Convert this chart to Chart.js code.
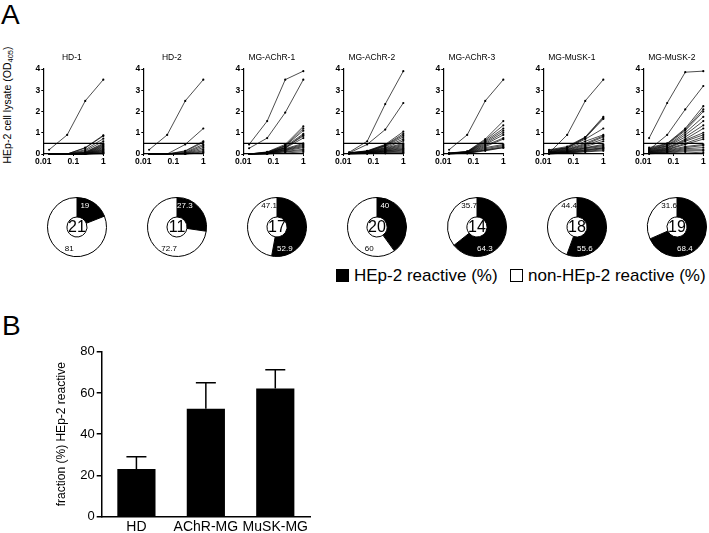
<!DOCTYPE html>
<html>
<head>
<meta charset="utf-8">
<script src="https://cdn.jsdelivr.net/npm/chart.js@4.4.0/dist/chart.umd.min.js"></script>
<style>
body { margin:0; background:#fff; width:709px; height:533px; position:relative; overflow:hidden;
  font-family: Arial, "Liberation Sans", sans-serif; color:#000; }
canvas, .abs { position:absolute; }
.panel { font-size:28px; line-height:28px; }
#ylab { left:8px; top:105px; font-size:10.5px; white-space:nowrap; transform:translate(-50%,-50%) rotate(-90deg); }
#ylab sub { font-size:7.5px; vertical-align:-2px; }
.leg { font-size:17px; line-height:20px; white-space:nowrap; }
</style>
</head>
<body>
<div class="abs panel" style="left:1px; top:1px;">A</div>
<div class="abs panel" style="left:2px; top:312px;">B</div>
<div class="abs" id="ylab">HEp-2 cell lysate (OD<sub>405</sub>)</div>
<div class="abs" style="left:336px; top:269px; width:13px; height:13px; background:#000;"></div>
<div class="abs leg" style="left:354px; top:265.5px;">HEp-2 reactive (%)</div>
<div class="abs" style="left:510px; top:269px; width:13px; height:13px; border:1.5px solid #000; box-sizing:border-box;"></div>
<div class="abs leg" style="left:528px; top:265.5px;">non-HEp-2 reactive (%)</div>

<script>
// dilution series (x) and cut-off
var dilutions = [1/64, 1/16, 1/4, 1];
var cutoff = 0.5;

var panelTitles = ['HD-1', 'HD-2', 'MG-AChR-1', 'MG-AChR-2', 'MG-AChR-3', 'MG-MuSK-1', 'MG-MuSK-2'];
var cloneCounts = [21, 11, 17, 20, 14, 18, 19];
var reactivePct = [19, 27.3, 52.9, 40, 64.3, 55.6, 68.4];
var nonReactivePct = [81, 72.7, 47.1, 60, 35.7, 44.4, 31.6];

// OD405 per antibody at each dilution
var hd1 = [
  [0.2,0.9,2.5,3.5],[0,0,0.3,0.88],[0,0,0.28,0.85],[0,0,0.2,0.72],[0,0,0.15,0.6],
  [0,0,0.1,0.5],[0,0,0.08,0.46],[0,0,0.06,0.42],[0,0,0.05,0.38],[0,0,0.04,0.34],
  [0,0,0.03,0.3],[0,0,0.02,0.26],[0,0,0.02,0.22],[0,0,0.01,0.19],[0,0,0.01,0.16],
  [0,0,0,0.13],[0,0,0,0.1],[0,0,0,0.07],[0,0,0,0.05],[0,0,0,0.03],[0,0,0,0.01]
];
var hd2 = [
  [0.2,0.9,2.5,3.5],[0,0,0.45,1.2],[0,0,0.15,0.6],[0,0,0.12,0.55],[0,0,0.08,0.45],
  [0,0,0.05,0.38],[0,0,0.03,0.3],[0,0,0.02,0.22],[0,0,0.01,0.15],[0,0,0,0.1],[0,0,0,0.05]
];
var achr1 = [
  [0.45,1.55,3.5,3.9],[0.27,0.75,1.95,3.5],[0,0.1,0.45,1.3],[0,0.08,0.4,1.2],[0,0.08,0.38,1.1],
  [0,0.06,0.35,0.95],[0,0.05,0.3,0.9],[0,0.05,0.3,0.85],[0,0.04,0.28,0.75],[0,0.04,0.25,0.5],
  [0,0.03,0.22,0.45],[0,0.03,0.2,0.4],[0,0.02,0.18,0.35],[0,0.02,0.15,0.3],[0,0.01,0.12,0.22],
  [0,0.01,0.1,0.16],[0,0,0.05,0.1]
];
var achr2 = [
  [0.08,0.6,2.35,3.9],[0.05,0.45,1.15,2.4],[0.06,0.15,0.45,1.05],[0.05,0.14,0.42,0.95],
  [0.05,0.12,0.4,0.88],[0.04,0.12,0.38,0.8],[0.04,0.1,0.35,0.7],[0.04,0.1,0.3,0.62],
  [0.03,0.09,0.28,0.5],[0.03,0.08,0.25,0.45],[0.03,0.08,0.22,0.4],[0.03,0.07,0.2,0.35],
  [0.02,0.06,0.18,0.3],[0.02,0.05,0.15,0.26],[0.02,0.05,0.14,0.22],[0.02,0.04,0.12,0.18],
  [0.01,0.04,0.1,0.14],[0.01,0.03,0.08,0.1],[0.01,0.02,0.05,0.06],[0.01,0.02,0.03,0.03]
];
var achr3 = [
  [0.2,0.9,2.5,3.5],[0.05,0.12,0.7,1.55],[0.04,0.11,0.65,1.35],[0.04,0.1,0.6,1.2],
  [0.03,0.1,0.55,1.1],[0.03,0.09,0.5,1.0],[0.03,0.08,0.45,0.9],[0.02,0.07,0.4,0.75],
  [0.02,0.06,0.35,0.7],[0.02,0.05,0.3,0.45],[0.01,0.05,0.25,0.4],[0.01,0.04,0.2,0.35],
  [0.01,0.04,0.18,0.3],[0.01,0.03,0.15,0.3]
];
var musk1 = [
  [0.05,0.9,2.5,3.5],[0.2,0.35,0.8,1.75],[0.18,0.3,0.78,1.7],[0.15,0.3,0.75,1.65],
  [0.12,0.28,0.7,1.2],[0.1,0.25,0.6,0.9],[0.1,0.22,0.5,0.85],[0.08,0.2,0.45,0.8],
  [0.08,0.18,0.4,0.7],[0.06,0.15,0.35,0.6],[0.05,0.14,0.3,0.45],[0.05,0.12,0.28,0.4],
  [0.04,0.1,0.25,0.35],[0.03,0.1,0.2,0.3],[0.03,0.08,0.18,0.28],[0.02,0.07,0.15,0.25],
  [0.01,0.05,0.12,0.2],[0,0.05,0.1,0.15]
];
var musk2 = [
  [0.75,2.4,3.85,3.9],[0.2,0.9,2.1,3.2],[0.3,0.5,1.2,2.25],[0.25,0.48,1.15,2.1],
  [0.22,0.45,1.1,2.0],[0.2,0.4,1.0,1.75],[0.18,0.38,0.9,1.55],[0.15,0.35,0.8,1.35],
  [0.14,0.3,0.7,1.2],[0.12,0.28,0.65,1.0],[0.1,0.25,0.6,0.9],[0.1,0.22,0.5,0.8],
  [0.08,0.2,0.45,0.7],[0.06,0.18,0.35,0.45],[0.05,0.15,0.3,0.4],[0.04,0.12,0.25,0.3],
  [0.03,0.1,0.2,0.2],[0.02,0.08,0.15,0.15],[0.01,0.05,0.1,0.05]
];
var panelLines = [hd1, hd2, achr1, achr2, achr3, musk1, musk2];

// panel B
var groups = ['HD', 'AChR-MG', 'MuSK-MG'];
var groupMeans = [23.1, 52.4, 62.1];
var groupSem = [6.0, 12.6, 9.2];

Chart.defaults.font.family = 'Arial, "Liberation Sans", sans-serif';
Chart.defaults.color = '#000';

function addCanvas(left, top, w, h) {
  var cv = document.createElement('canvas');
  cv.width = w; cv.height = h;
  cv.style.left = left + 'px'; cv.style.top = top + 'px';
  cv.style.width = w + 'px'; cv.style.height = h + 'px';
  document.body.appendChild(cv);
  return cv;
}

// title centred over the plot area
var panelTitle = {
  id: 'panelTitle',
  afterDraw: function (chart, args, opts) {
    var ctx = chart.ctx, ca = chart.chartArea;
    ctx.save();
    ctx.font = '8.5px Arial, "Liberation Sans", sans-serif';
    ctx.textAlign = 'center';
    ctx.textBaseline = 'middle';
    ctx.fillStyle = '#000';
    ctx.fillText(opts.text, (ca.left + ca.right) / 2 - 1.5, 12.5);
    ctx.restore();
  }
};

// ---- small dilution curves ----
function createLineChart(i) {
  var cv = addCanvas(13 + 100 * i, 45, 100, 130);
  var ds = panelLines[i].map(function (row) {
    return {
      data: row.map(function (v, k) { return { x: dilutions[k], y: v }; }),
      borderColor: '#000', borderWidth: 0.7,
      pointRadius: 1.1, pointBackgroundColor: '#000', pointBorderWidth: 0,
      clip: false
    };
  });
  ds.push({
    data: [{ x: 0.01, y: cutoff }, { x: 1, y: cutoff }],
    borderColor: '#000', borderWidth: 1.4, pointRadius: 0, clip: false
  });
  return new Chart(cv, {
    type: 'line',
    data: { datasets: ds },
    options: {
      responsive: false, animation: false, events: [],
      layout: { padding: { left: 0, right: 9.7, top: 24, bottom: 0 } },
      plugins: {
        legend: { display: false }, tooltip: { enabled: false },
        panelTitle: { text: panelTitles[i] }
      },
      scales: {
        x: {
          type: 'logarithmic', min: 0.01, max: 1,
          afterBuildTicks: function (s) { s.ticks = [{ value: 0.01 }, { value: 0.1 }, { value: 1 }]; },
          ticks: { callback: function (v) { return String(v); }, font: { size: 8.5, weight: 'bold' },
            padding: 1, maxRotation: 0, autoSkip: false },
          grid: { drawOnChartArea: false, color: '#000', tickLength: 2 },
          border: { color: '#000', width: 1.2 },
          afterFit: function (s) { s.height = 21; }
        },
        y: {
          min: 0, max: 4,
          ticks: { stepSize: 1, font: { size: 8.5, weight: 'bold' }, padding: 1 },
          grid: { drawOnChartArea: false, color: '#000', tickLength: 2 },
          border: { color: '#000', width: 1.2 },
          afterFit: function (s) { s.width = 30.3; }
        }
      }
    },
    plugins: [panelTitle]
  });
}

// ---- doughnuts ----
var pieText = {
  id: 'pieText',
  afterDraw: function (chart, args, opts) {
    var ctx = chart.ctx;
    var arcs = chart.getDatasetMeta(0).data;
    var cx = arcs[0].x, cy = arcs[0].y;
    var vals = chart.data.datasets[0].data;
    var big = vals[0] >= 50;
    var angles = big ? [160, 340] : [20, 200];
    ctx.save();
    ctx.textAlign = 'center';
    ctx.textBaseline = 'middle';
    ctx.font = '8px Arial, "Liberation Sans", sans-serif';
    for (var k = 0; k < 2; k++) {
      var a = angles[k] * Math.PI / 180;
      ctx.fillStyle = k === 0 ? '#fff' : '#000';
      ctx.fillText(String(vals[k]), cx + 23 * Math.sin(a), cy - 23 * Math.cos(a));
    }
    ctx.fillStyle = '#000';
    ctx.font = '16px Arial, "Liberation Sans", sans-serif';
    ctx.fillText(String(opts.n), cx, cy + 1);
    ctx.restore();
  }
};

function createPie(i) {
  var cv = addCanvas(46.3 + 100 * i, 195.7, 62, 62);
  return new Chart(cv, {
    type: 'doughnut',
    data: {
      labels: ['HEp-2 reactive (%)', 'non-HEp-2 reactive (%)'],
      datasets: [{ data: [reactivePct[i], nonReactivePct[i]],
        backgroundColor: ['#000', '#fff'], borderColor: '#000', borderWidth: 1 }]
    },
    options: {
      responsive: false, animation: false, events: [], cutout: '34%',
      layout: { padding: 1 },
      plugins: { legend: { display: false }, tooltip: { enabled: false }, pieText: { n: cloneCounts[i] } }
    },
    plugins: [pieText]
  });
}

for (var i = 0; i < panelTitles.length; i++) {
  createLineChart(i);
  createPie(i);
}

// ---- panel B bar chart with SEM ----
var errorBars = {
  id: 'errorBars',
  afterDatasetsDraw: function (chart) {
    var ctx = chart.ctx, y = chart.scales.y;
    var meta = chart.getDatasetMeta(0);
    ctx.save();
    ctx.strokeStyle = '#000';
    ctx.lineWidth = 1.5;
    meta.data.forEach(function (bar, k) {
      var top = y.getPixelForValue(groupMeans[k] + groupSem[k]);
      ctx.beginPath();
      ctx.moveTo(bar.x, bar.y);
      ctx.lineTo(bar.x, top);
      ctx.moveTo(bar.x - 10, top);
      ctx.lineTo(bar.x + 10, top);
      ctx.stroke();
    });
    ctx.restore();
  }
};

var cvB = addCanvas(50, 335, 270, 210);
new Chart(cvB, {
  type: 'bar',
  data: { labels: groups, datasets: [{ data: groupMeans, backgroundColor: '#000',
    categoryPercentage: 1, barPercentage: 0.55 }] },
  options: {
    responsive: false, animation: false, events: [],
    layout: { padding: { left: 0, right: 10, top: 16.7, bottom: 0 } },
    plugins: { legend: { display: false }, tooltip: { enabled: false } },
    scales: {
      x: {
        grid: { display: false, drawTicks: false, tickLength: 0 },
        border: { display: true, color: '#000', width: 1.5 },
        ticks: { font: { size: 14 }, padding: 2, autoSkip: false, maxRotation: 0 },
        afterFit: function (s) { s.height = 28.3; }
      },
      y: {
        min: 0, max: 80,
        ticks: { stepSize: 20, font: { size: 13 }, padding: 2 },
        grid: { drawOnChartArea: false, color: '#000', lineWidth: 1.5, tickLength: 5 },
        border: { color: '#000', width: 1.5 },
        title: { display: true, text: 'fraction (%) HEp-2 reactive', font: { size: 12 }, padding: { top: 4, bottom: 4 } },
        afterFit: function (s) { s.width = 51.7; }
      }
    }
  },
  plugins: [errorBars]
});
</script>
</body>
</html>
